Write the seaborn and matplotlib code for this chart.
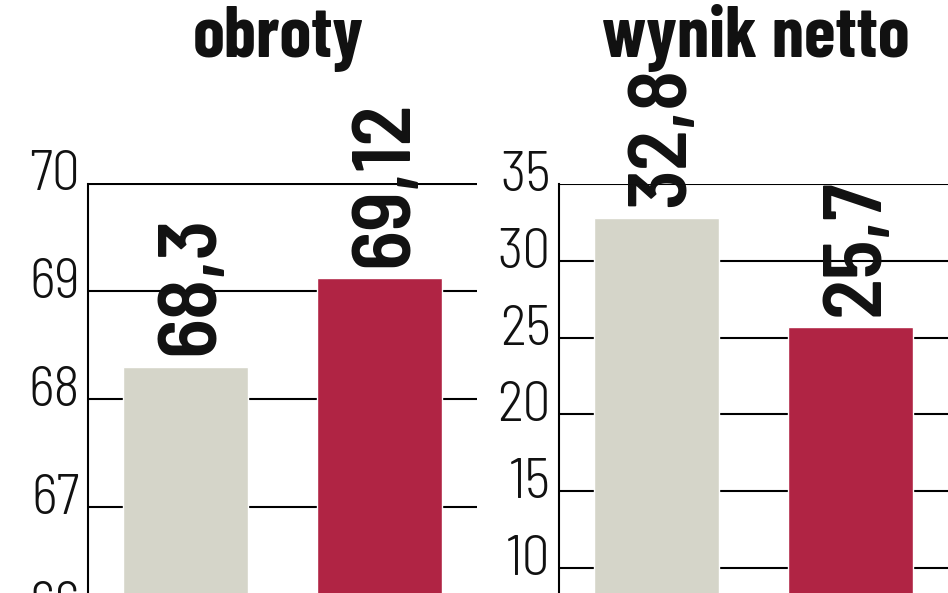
import matplotlib
matplotlib.use("Agg")
import matplotlib.pyplot as plt
from matplotlib.transforms import ScaledTranslation
import seaborn as sns

# Dane
okresy = ["rok poprzedni", "rok bieżący"]
obroty = [68.3, 69.12]
wynik_netto = [32.8, 25.7]
tytuly = ["obroty", "wynik netto"]
ticks_obroty = [66, 67, 68, 69, 70]
ticks_wynik = [5, 10, 15, 20, 25, 30, 35]

SZARY = "#D5D5C9"
CZERWONY = "#B02444"
FONTY = ["Barlow Condensed", "Roboto Condensed", "DejaVu Sans"]
FONTY_SEMI = ["Barlow Semi Condensed", "Roboto Condensed", "DejaVu Sans"]

sns.set_theme(style="white")
plt.rcParams["font.family"] = FONTY

fig = plt.figure(figsize=(9.48, 5.93), dpi=100)
ax1 = fig.add_axes([88 / 948, (593 - 614.3) / 593, 389 / 948, 430.8 / 593])
ax2 = fig.add_axes([559 / 948, (593 - 644.8) / 593, 389 / 948, 460.8 / 593])


def panel(ax, values, ticks):
    sns.barplot(x=okresy, y=values, hue=okresy, palette=[SZARY, CZERWONY],
                width=0.643, saturation=1, legend=False, ax=ax)
    ax.set_ylim(ticks[0], ticks[-1])
    ax.set_xlim(-0.5, 1.5)
    ax.set_yticks(ticks)
    ax.set_xlabel("")
    ax.set_ylabel("")
    ax.set_axisbelow(True)
    ax.yaxis.grid(True, color="black", lw=1.5)
    for s in ["top", "right", "bottom"]:
        ax.spines[s].set_visible(False)
    ax.spines["left"].set_color("black")
    ax.spines["left"].set_linewidth(1.5)
    ax.tick_params(axis="x", bottom=False, labelbottom=False)
    ax.tick_params(axis="y", left=False, length=0, pad=6, labelsize=40,
                   labelcolor="#111111")
    # etykiety osi lekko ponad liniami siatki
    off = ScaledTranslation(0, 0.13, fig.dpi_scale_trans)
    for lab in ax.get_yticklabels():
        lab.set_transform(lab.get_transform() + off)
        lab.set_family(FONTY_SEMI)
        lab.set_fontweight(300)
    for i, v in enumerate(values):
        ax.annotate(f"{v:g}".replace(".", ","), xy=(i, v), xytext=(5, 8),
                    textcoords="offset points", rotation=90, ha="center",
                    va="bottom", fontsize=60, fontweight=600,
                    family=FONTY_SEMI, color="#111111", annotation_clip=False)


panel(ax1, obroty, ticks_obroty)
panel(ax2, wynik_netto, ticks_wynik)

fig.text(278 / 948, 1 - 57 / 593, tytuly[0], ha="center", va="baseline",
         fontsize=52, fontweight="bold", color="#111111")
fig.text(756 / 948, 1 - 57 / 593, tytuly[1], ha="center", va="baseline",
         fontsize=52, fontweight="bold", color="#111111")

fig.savefig("out.png", dpi=100)
